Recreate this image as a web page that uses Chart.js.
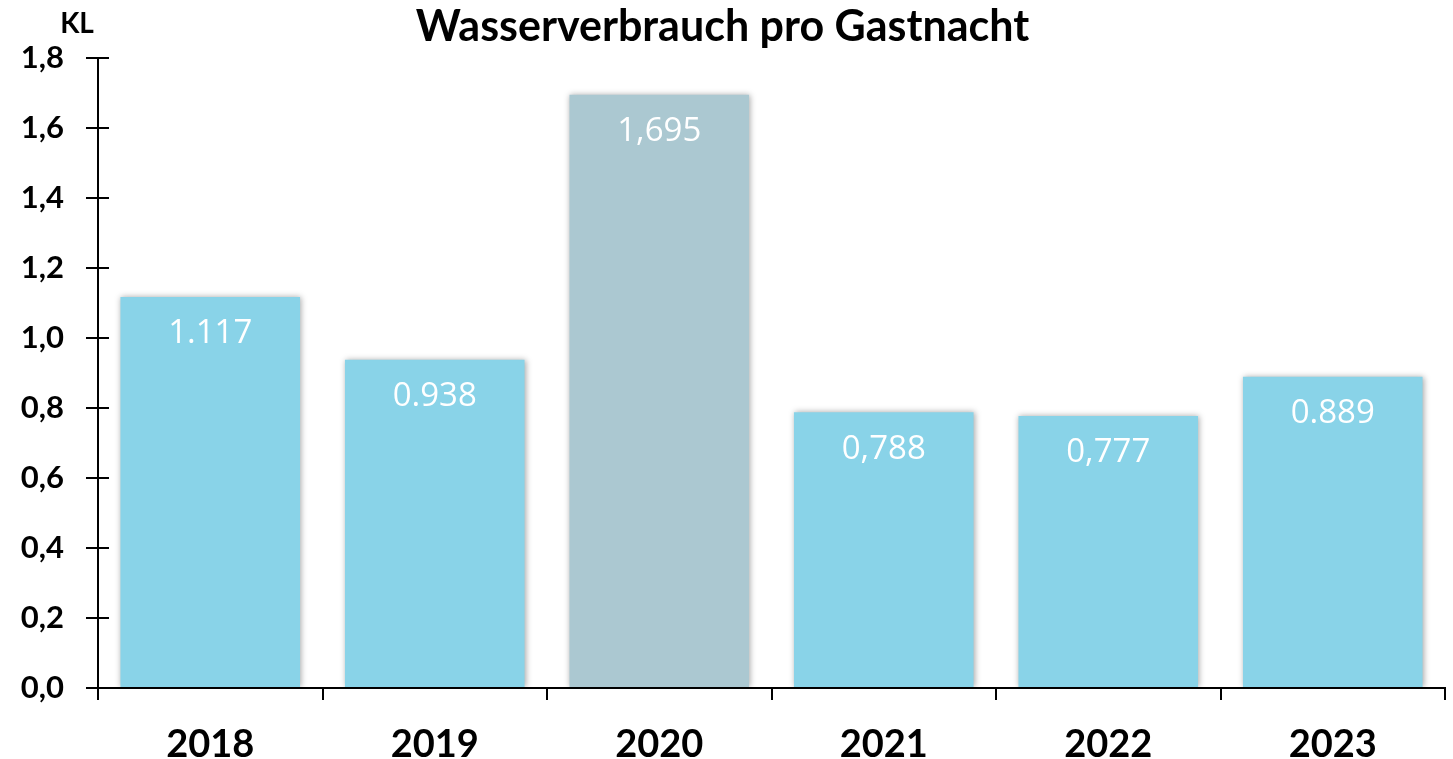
<!DOCTYPE html>
<html>
<head>
<meta charset="utf-8">
<script src="https://cdn.jsdelivr.net/npm/chart.js@4.4.0/dist/chart.umd.min.js"></script>
<style>
  html, body { margin: 0; padding: 0; background: #fff; }
  #wrap { width: 1453px; height: 759px; position: relative; }
</style>
</head>
<body>
<div id="wrap"><canvas id="waterChart"></canvas></div>
<script>
// Daten
const years = ["2018", "2019", "2020", "2021", "2022", "2023"];
const usage = [1.117, 0.938, 1.695, 0.788, 0.777, 0.889];
const usageLabels = ["1.117", "0.938", "1,695", "0,788", "0,777", "0.889"];
const barColors = ["#89d3e8", "#89d3e8", "#abc8d1", "#89d3e8", "#89d3e8", "#89d3e8"];
const yTicks = [0, 0.2, 0.4, 0.6, 0.8, 1.0, 1.2, 1.4, 1.6, 1.8];

// Schatten hinter den Balken
const barShadow = {
    id: 'barShadow',
    beforeDatasetsDraw(chart) {
        chart.ctx.save();
        chart.ctx.shadowColor = 'rgba(0,0,0,0.35)';
        chart.ctx.shadowBlur = 6;
        chart.ctx.shadowOffsetX = 1;
    },
    afterDatasetsDraw(chart) {
        chart.ctx.restore();
    }
};

// Werte in den Balken
const valueLabels = {
    id: 'valueLabels',
    afterDatasetsDraw(chart) {
        const ctx = chart.ctx;
        const meta = chart.getDatasetMeta(0);
        ctx.save();
        ctx.fillStyle = '#ffffff';
        ctx.font = '33px "Open Sans", sans-serif';
        ctx.textAlign = 'center';
        ctx.textBaseline = 'middle';
        meta.data.forEach((bar, i) => {
            ctx.fillText(usageLabels[i], bar.x, bar.y + 37);
        });
        ctx.restore();
    }
};

// Achsenbeschriftung "KL" und innere Teilstriche
const axisExtras = {
    id: 'axisExtras',
    afterDraw(chart) {
        const ctx = chart.ctx;
        const y = chart.scales.y;
        ctx.save();
        ctx.strokeStyle = '#000';
        ctx.lineWidth = 2;
        yTicks.forEach(v => {
            const py = Math.round(y.getPixelForValue(v));
            ctx.beginPath();
            ctx.moveTo(y.right, py);
            ctx.lineTo(y.right + 11, py);
            ctx.stroke();
        });
        ctx.fillStyle = '#000';
        ctx.font = 'bold 28px Lato, sans-serif';
        ctx.textAlign = 'center';
        ctx.textBaseline = 'middle';
        ctx.fillText('KL', 77, 24);
        ctx.restore();
    }
};

new Chart(document.getElementById('waterChart'), {
    type: 'bar',
    data: {
        labels: years,
        datasets: [{
            data: usage,
            backgroundColor: barColors,
            borderWidth: 0,
            barPercentage: 0.8,
            categoryPercentage: 1.0
        }]
    },
    options: {
        responsive: true,
        maintainAspectRatio: false,
        animation: false,
        layout: { padding: { left: 0, right: 8, top: 0, bottom: 0 } },
        plugins: {
            legend: { display: false },
            tooltip: { enabled: false },
            title: {
                display: true,
                text: 'Wasserverbrauch pro Gastnacht',
                color: '#000',
                font: { family: 'Lato, sans-serif', size: 43, weight: 'bold', lineHeight: 1.0 },
                padding: { top: 6, bottom: 9 }
            }
        },
        scales: {
            x: {
                grid: {
                    offset: true,
                    drawOnChartArea: false,
                    drawTicks: true,
                    tickLength: 12,
                    color: '#000',
                    lineWidth: 2
                },
                border: { display: true, color: '#000', width: 2 },
                ticks: {
                    color: '#000',
                    padding: 22,
                    font: { family: 'Lato, sans-serif', size: 38, weight: 'bold' }
                },
                afterFit(scale) { scale.height = 71; }
            },
            y: {
                min: 0,
                max: 1.8,
                afterBuildTicks(scale) {
                    scale.ticks = yTicks.map(v => ({ value: v }));
                },
                grid: {
                    drawOnChartArea: false,
                    drawTicks: true,
                    tickLength: 12,
                    color: '#000',
                    lineWidth: 2
                },
                border: { display: true, color: '#000', width: 2 },
                ticks: {
                    color: '#000',
                    padding: 22,
                    font: { family: 'Lato, sans-serif', size: 31, weight: 'bold' },
                    callback: v => v.toFixed(1).replace('.', ',')
                },
                afterFit(scale) { scale.width = 98; }
            }
        }
    },
    plugins: [barShadow, valueLabels, axisExtras]
});
</script>
</body>
</html>
